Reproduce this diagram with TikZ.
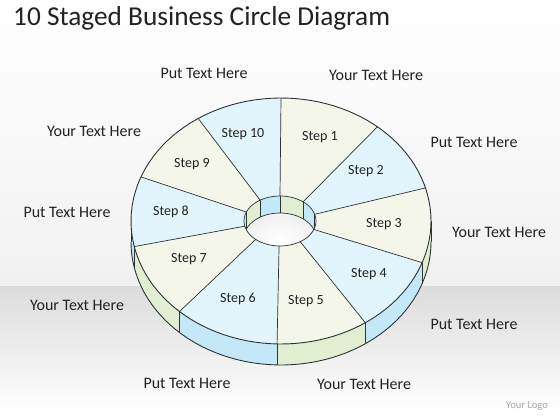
\documentclass[tikz,border=0pt]{standalone}
\usepackage{fontspec}
\setmainfont{Carlito}
\definecolor{faceBlue}{HTML}{E2F4FC}
\definecolor{faceGreen}{HTML}{F3F6E8}
\definecolor{sideBlue}{HTML}{C4E8F8}
\definecolor{sideGreen}{HTML}{E2EED2}
\definecolor{edgeCol}{HTML}{2E3436}
\definecolor{txtCol}{HTML}{222222}
\definecolor{bandTop}{HTML}{DCDCDC}
\definecolor{upperBot}{HTML}{F1F1F1}
\def\RCx{281}\def\RCy{221}\def\RRx{150}\def\RRy{123}\def\RDep{21}
\def\HCx{280}\def\HCy{221}\def\HRx{36}\def\HRy{25}\def\HDep{17}
\newcommand{\facepiece}[3]{%
  \fill[#3] plot[domain=#1:#2,samples=30] ({\RCx+\RRx*cos(\x)},{\RCy-\RRy*sin(\x)})
   -- plot[domain=#2:#1,samples=20] ({\HCx+\HRx*cos(\x)},{\HCy-\HRy*sin(\x)}) -- cycle;}
\newcommand{\sidepiece}[3]{%
  \fill[#3] plot[domain=#1:#2,samples=30] ({\RCx+\RRx*cos(\x)},{\RCy-\RRy*sin(\x)})
   -- plot[domain=#2:#1,samples=30] ({\RCx+\RRx*cos(\x)},{\RCy+\RDep-\RRy*sin(\x)}) -- cycle;}
\newcommand{\wallpiece}[3]{%
  \fill[#3] plot[domain=#1:#2,samples=20] ({\HCx+\HRx*cos(\x)},{\HCy-\HRy*sin(\x)})
   -- plot[domain=#2:#1,samples=20] ({\HCx+\HRx*cos(\x)},{\HCy+\HDep-\HRy*sin(\x)}) -- cycle;}
\newcommand{\radial}[1]{%
  \draw[edge] ({\HCx+\HRx*cos(#1)},{\HCy-\HRy*sin(#1)}) -- ({\RCx+\RRx*cos(#1)},{\RCy-\RRy*sin(#1)});}
\newcommand{\sideline}[1]{%
  \draw[edge] ({\RCx+\RRx*cos(#1)},{\RCy-\RRy*sin(#1)}) -- ({\RCx+\RRx*cos(#1)},{\RCy+\RDep-\RRy*sin(#1)});}
\newcommand{\wallline}[1]{%
  \draw[edge] ({\HCx+\HRx*cos(#1)},{\HCy-\HRy*sin(#1)}) -- ({\HCx+\HRx*cos(#1)},{\HCy+\HDep-\HRy*sin(#1)});}
\begin{document}
\begin{tikzpicture}[x=1pt,y=-1pt,
  edge/.style={draw=edgeCol,line width=0.7pt},
  outline/.style={draw=edgeCol,line width=0.9pt},
  lbl/.style={text=txtCol,font=\fontsize{16}{18}\selectfont,inner sep=0pt},
  steplbl/.style={text=txtCol,font=\fontsize{14}{16}\selectfont,inner sep=0pt},
  titlelbl/.style={text=txtCol,font=\fontsize{27.3}{30}\selectfont,inner sep=0pt,anchor=west}]
\useasboundingbox (0,0) rectangle (560,420);
% background
\shade[top color=white,bottom color=upperBot] (0,0) rectangle (560,286);
\shade[top color=bandTop,bottom color=white] (0,286) rectangle (560,412);
\fill[white] (0,412) rectangle (560,420);
% outer side (visible lower half)
\sidepiece{0}{-19.8}{sideGreen}
\sidepiece{-19.8}{-55.8}{sideBlue}
\sidepiece{-55.8}{-91.5}{sideGreen}
\sidepiece{-91.5}{-132.6}{sideBlue}
\sidepiece{-132.6}{-168}{sideGreen}
\sidepiece{-168}{-180}{sideBlue}
\foreach \a in {-19.8,-55.8,-91.5,-132.6,-168} {\sideline{\a}}
\draw[outline] plot[domain=0:-180,samples=60] ({\RCx+\RRx*cos(\x)},{\RCy+\RDep-\RRy*sin(\x)});
\sideline{0}\sideline{180}
% top face
\facepiece{90}{50}{faceGreen}
\facepiece{50}{15.6}{faceBlue}
\facepiece{15.6}{-19.8}{faceGreen}
\facepiece{-19.8}{-55.8}{faceBlue}
\facepiece{-55.8}{-91.5}{faceGreen}
\facepiece{-91.5}{-132.6}{faceBlue}
\facepiece{-132.6}{-168}{faceGreen}
\facepiece{-168}{-201}{faceBlue}
\facepiece{-201}{-236.5}{faceGreen}
\facepiece{-236.5}{-270}{faceBlue}
% hole
\begin{scope}
\clip plot[domain=0:360,samples=60] ({\HCx+\HRx*cos(\x)},{\HCy-\HRy*sin(\x)}) -- cycle;
\wallpiece{0}{15.6}{sideGreen}
\wallpiece{15.6}{50}{sideBlue}
\wallpiece{50}{90}{sideGreen}
\wallpiece{90}{123.5}{sideBlue}
\wallpiece{123.5}{159}{sideGreen}
\wallpiece{159}{180}{sideBlue}
\foreach \a in {15.6,50,90,123.5,159} {\wallline{\a}}
\shade[inner color=white,outer color=gray!12,edge] plot[domain=0:360,samples=60] ({\HCx+\HRx*cos(\x)},{\HCy+\HDep-\HRy*sin(\x)}) -- cycle;
\end{scope}
% radial lines and outlines
\foreach \a in {90,50,15.6,-19.8,-55.8,-91.5,-132.6,-168,159,123.5} {\radial{\a}}
\draw[edge] plot[domain=0:360,samples=60] ({\HCx+\HRx*cos(\x)},{\HCy-\HRy*sin(\x)}) -- cycle;
\draw[outline] plot[domain=0:360,samples=120] ({\RCx+\RRx*cos(\x)},{\RCy-\RRy*sin(\x)}) -- cycle;
% step labels
\node[steplbl] (s1) at (320,137) {Step 1};
\node[steplbl] (s2) at (366,171) {Step 2};
\node[steplbl] (s3) at (384,224) {Step 3};
\node[steplbl] (s4) at (369,274) {Step 4};
\node[steplbl] (s5) at (306,301) {Step 5};
\node[steplbl] (s6) at (238,299) {Step 6};
\node[steplbl] (s7) at (189,259) {Step 7};
\node[steplbl] (s8) at (171,212) {Step 8};
\node[steplbl] (s9) at (192,164) {Step 9};
\node[steplbl] (s10) at (243,134) {Step 10};
% outer labels
\node[lbl] (t1) at (204,73) {Put Text Here};
\node[lbl] (t2) at (376,75) {Your Text Here};
\node[lbl] (t3) at (94,131) {Your Text Here};
\node[lbl] (t4) at (474,142) {Put Text Here};
\node[lbl] (t5) at (67,212) {Put Text Here};
\node[lbl] (t6) at (499,232) {Your Text Here};
\node[lbl] (t7) at (77,305) {Your Text Here};
\node[lbl] (t8) at (474,324) {Put Text Here};
\node[lbl] (t9) at (187,383) {Put Text Here};
\node[lbl] (t10) at (364,384) {Your Text Here};
\node[titlelbl] (title) at (13,18) {10 Staged Business Circle Diagram};
\node[text=gray!70,font=\fontsize{10.5}{12}\selectfont,inner sep=0pt] (logo) at (527,406) {Your Logo};
\end{tikzpicture}
\end{document}
